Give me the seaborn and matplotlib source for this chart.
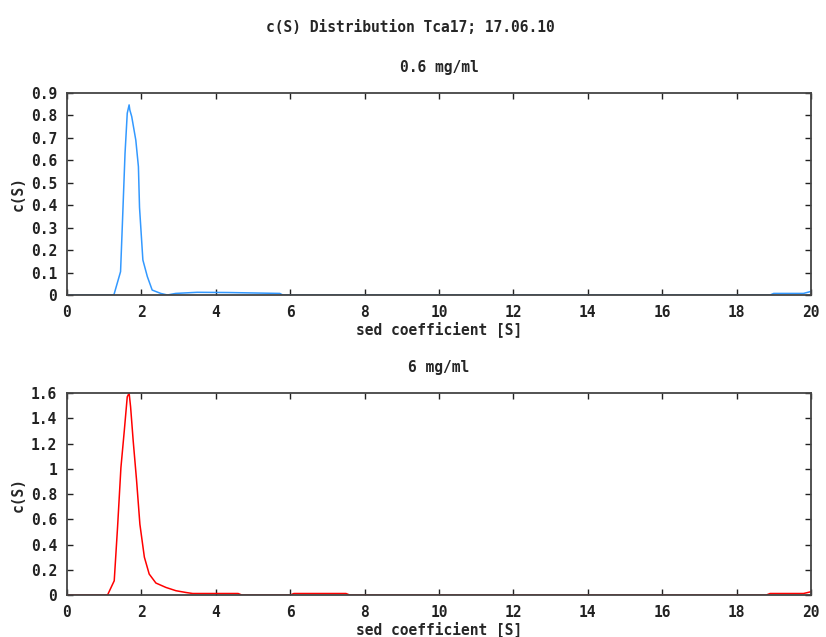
"""c(S) sedimentation coefficient distributions, Tca17 at two concentrations."""

import matplotlib

matplotlib.use("Agg")
import matplotlib.pyplot as plt
import numpy as np
import seaborn as sns
from matplotlib.ticker import MultipleLocator

sns.set_style("ticks")
plt.rcParams["font.family"] = ["DejaVu Sans Mono", "DejaVu Sans"]
plt.rcParams["font.weight"] = "bold"

# ── Data ──────────────────────────────────────────────────────────────────────

SUPTITLE = "c(S) Distribution Tca17; 17.06.10"
PANEL_TITLES = ["0.6 mg/ml", "6 mg/ml"]
X_LABEL = "sed coefficient [S]"
Y_LABEL = "c(S)"

s_low = [0, 1.2, 1.26, 1.44, 1.49, 1.56, 1.62, 1.67, 1.69, 1.74, 1.85, 1.92,
         1.95, 2.04, 2.16, 2.29, 2.52, 2.7, 2.92, 3.5, 4.34, 5.72, 5.8, 18.9,
         19.0, 19.8, 20.0]
c_low = [0, 0, 0, 0.104, 0.32, 0.63, 0.81, 0.847, 0.824, 0.795, 0.69, 0.572,
         0.39, 0.156, 0.082, 0.022, 0.007, 0.0, 0.007, 0.012, 0.011, 0.007, 0.0,
         0.0, 0.007, 0.007, 0.016]

s_high = [0, 1.0, 1.09, 1.27, 1.36, 1.45, 1.54, 1.62, 1.67, 1.71, 1.78, 1.87,
          1.96, 2.08, 2.21, 2.39, 2.66, 2.93, 3.2, 3.38, 4.6, 4.7, 6.0, 6.1,
          7.5, 7.6, 18.8, 18.9, 19.8, 20.0]
c_high = [0, 0, 0, 0.113, 0.54, 1.01, 1.30, 1.57, 1.60, 1.49, 1.22, 0.91,
          0.56, 0.30, 0.166, 0.095, 0.06, 0.034, 0.02, 0.012, 0.012, 0.0, 0.0,
          0.012, 0.012, 0.0, 0.0, 0.012, 0.012, 0.026]

Y_MAX = [0.9, 1.6]
Y_STEP = [0.1, 0.2]
COLORS = ["#3399ff", "#ff0000"]


def _fmt(v, _pos):
    return f"{v:.1f}".rstrip("0").rstrip(".") if v else "0"


# ── Figure ────────────────────────────────────────────────────────────────────

fig = plt.figure(figsize=(8.26, 6.37), dpi=100)
ax_top = fig.add_axes([0.0811, 0.5369, 0.9007, 0.3171])
ax_bot = fig.add_axes([0.0811, 0.0659, 0.9007, 0.3171])

series = [(s_low, c_low), (s_high, c_high)]
for i, (ax, (s, c)) in enumerate(zip([ax_top, ax_bot], series)):
    sns.lineplot(x=np.array(s), y=np.array(c), ax=ax, color=COLORS[i],
                 linewidth=1.1, estimator=None, sort=False, zorder=1)
    ax.set_xlim(0, 20)
    ax.set_ylim(0, Y_MAX[i])
    ax.xaxis.set_major_locator(MultipleLocator(2))
    ax.yaxis.set_major_locator(MultipleLocator(Y_STEP[i]))
    ax.yaxis.set_major_formatter(plt.FuncFormatter(_fmt))
    ax.tick_params(direction="in", top=True, right=True, length=4,
                   width=1, colors="#222222", labelsize=10.5, pad=7)
    for lab in ax.get_xticklabels() + ax.get_yticklabels():
        lab.set_fontweight("bold")
    for sp in ax.spines.values():
        sp.set_visible(True)
        sp.set_color("#444444")
        sp.set_linewidth(1.3)
        sp.set_zorder(3)
    ax.set_title(PANEL_TITLES[i], fontsize=10.5, fontweight="bold", pad=15)
    ax.set_xlabel(X_LABEL, fontsize=10.5, fontweight="bold", labelpad=1)
    ax.set_ylabel(Y_LABEL, fontsize=10.5, fontweight="bold", labelpad=4)

fig.suptitle(SUPTITLE, fontsize=10.5, fontweight="bold", y=0.968, x=0.497)

fig.savefig("out.png", dpi=100)
